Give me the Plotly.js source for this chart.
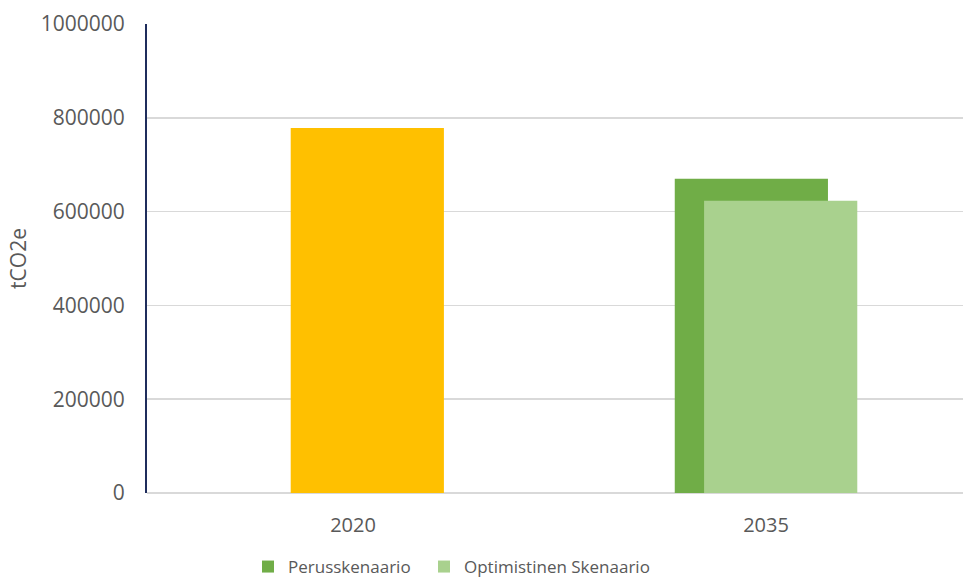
<!DOCTYPE html>
<html>
<head>
<meta charset="utf-8">
<script src="https://cdn.plot.ly/plotly-3.0.1.min.js"></script>
<style>html,body{margin:0;padding:0;background:#fff;overflow:hidden;}#chart{width:963px;height:585px;}</style>
</head>
<body>
<div id="chart"></div>
<script>
var categories = ['2020', '2035'];
var baseYear = ['2020'];
var baseValues = [778000];
var scenarioYear = ['2035'];
var perusValues = [670000];
var optimValues = [623000];
var seriesNames = ['Perusskenaario', 'Optimistinen Skenaario'];
var yTicks = [0, 200000, 400000, 600000, 800000, 1000000];
var yTickLabels = ['0', '200000', '400000', '600000', '800000', '1000000'];

var font = "'Open Sans', 'Noto Sans', sans-serif";
var grey = '#595959';
var traces = [
  {type: 'bar', x: baseYear, y: baseValues, name: '2020', showlegend: false,
   width: 0.371, offset: -0.151, marker: {color: '#FFC000'}},
  {type: 'bar', x: scenarioYear, y: perusValues, name: seriesNames[0],
   width: 0.371, offset: -0.221, marker: {color: '#70AD47'}, legend: 'legend'},
  {type: 'bar', x: scenarioYear, y: optimValues, name: seriesNames[1],
   width: 0.371, offset: -0.150, marker: {color: '#A9D18E'}, legend: 'legend2'}
];
var legendBase = {orientation: 'h', xref: 'container', xanchor: 'left',
                  y: -0.01, yref: 'container', yanchor: 'bottom',
                  font: {size: 17, color: grey}, itemwidth: 30,
                  bgcolor: 'rgba(0,0,0,0)'};
var layout = {
  width: 963, height: 585,
  margin: {l: 147, r: 0, t: 24, b: 92, autoexpand: false},
  barmode: 'overlay',
  paper_bgcolor: '#fff', plot_bgcolor: '#fff',
  font: {family: font, size: 19, color: grey},
  xaxis: {type: 'category', categoryorder: 'array', categoryarray: categories,
          range: [-0.499, 1.477], showgrid: false, showline: false, zeroline: false,
          ticks: '', ticklabelstandoff: 18, tickfont: {size: 20, color: grey},
          automargin: false},
  yaxis: {range: [0, 1000000], tickvals: yTicks, ticktext: yTickLabels,
          showgrid: true, gridcolor: '#D9D9D9', gridwidth: 1.5,
          showline: true, linecolor: '#1F2D5C', linewidth: 2,
          zeroline: true, zerolinecolor: '#D9D9D9', zerolinewidth: 1.5,
          ticks: '', ticklabelstandoff: 16, automargin: false,
          tickfont: {size: 21, color: grey},
          title: {text: 'tCO2e', font: {size: 21, color: grey}, standoff: 8}},
  legend: Object.assign({}, legendBase, {x: 248 / 963}),
  legend2: Object.assign({}, legendBase, {x: 424 / 963}),
  showlegend: true
};
Plotly.newPlot('chart', traces, layout, {displayModeBar: false, staticPlot: true});
</script>
</body>
</html>
